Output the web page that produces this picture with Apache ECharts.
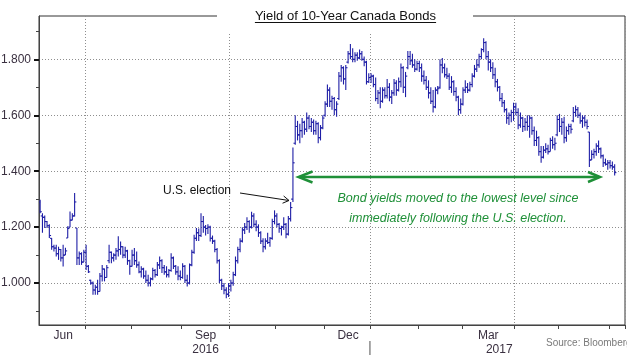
<!DOCTYPE html>
<html><head><meta charset="utf-8">
<script src="https://cdn.jsdelivr.net/npm/echarts@6/dist/echarts.min.js"></script>
<style>html,body{margin:0;padding:0;background:#fff}#c{width:627px;height:359px}</style>
</head><body><div id="c"></div>
<script>
// ---- data ----
const months = ['Jun 2016','Jul 2016','Aug 2016','Sep 2016','Oct 2016','Nov 2016','Dec 2016','Jan 2017','Feb 2017','Mar 2017','Apr 2017','May 2017','Jun 2017'];
const tradingDays = [20,20,22,21,20,21,20,21,19,23,19,22,7];
const labelMonths = ['Jun 2016','Sep 2016','Dec 2016','Mar 2017'];
const labelTexts = ['Jun','Sep','Dec','Mar'];
const yearTexts = ['','2016','','2017'];
const gridMonths = ['Jul 2016','Oct 2016','Jan 2017','Apr 2017'];
const yTickValues = [1.0,1.2,1.4,1.6,1.8];
const yMinorTicks = [0.9,1.1,1.3,1.5,1.7,1.9];

const open = [
1.290,1.240,1.235,1.220,1.205,1.160,1.130,1.125,1.105,1.120,1.090,1.100,1.161,1.200,1.225,1.240,1.197,1.090,1.105,1.075,
1.110,1.060,1.010,1.000,0.975,0.985,0.970,1.025,1.050,1.020,1.080,1.110,1.090,1.100,1.115,1.120,1.130,1.100,1.115,1.080,
1.060,1.100,1.080,1.065,1.040,1.050,1.025,1.010,1.000,1.015,1.045,1.030,1.065,1.080,1.055,1.040,1.030,1.045,1.090,1.060,1.040,1.025,
1.020,1.060,1.010,1.000,1.065,1.110,1.160,1.180,1.170,1.220,1.200,1.195,1.200,1.160,1.150,1.120,1.080,1.010,0.990,0.975,0.960,
0.990,1.000,1.030,1.080,1.120,1.150,1.190,1.200,1.220,1.200,1.240,1.210,1.200,1.180,1.150,1.130,1.150,1.145,1.160,1.220,
1.240,1.210,1.195,1.200,1.210,1.175,1.230,1.300,1.500,1.560,1.530,1.545,1.575,1.550,1.590,1.560,1.575,1.545,1.570,1.520,1.555,
1.600,1.640,1.690,1.650,1.660,1.620,1.660,1.740,1.770,1.730,1.790,1.820,1.810,1.800,1.815,1.805,1.820,1.800,1.790,1.720,
1.735,1.740,1.710,1.660,1.680,1.650,1.690,1.670,1.700,1.665,1.680,1.715,1.690,1.720,1.770,1.700,1.770,1.810,1.795,1.780,1.765,
1.785,1.770,1.740,1.725,1.700,1.680,1.650,1.630,1.690,1.700,1.780,1.770,1.745,1.740,1.700,1.720,1.685,1.665,1.620,
1.640,1.690,1.700,1.690,1.710,1.740,1.765,1.780,1.810,1.835,1.860,1.810,1.790,1.770,1.745,1.720,1.700,1.660,1.645,1.620,1.590,1.600,1.610,
1.630,1.610,1.565,1.590,1.560,1.575,1.560,1.590,1.545,1.510,1.520,1.470,1.450,1.475,1.480,1.470,1.510,1.495,1.530,
1.585,1.560,1.575,1.520,1.545,1.560,1.580,1.610,1.620,1.600,1.580,1.590,1.575,1.540,1.440,1.460,1.470,1.490,1.480,1.455,1.430,1.425,
1.430,1.420,1.415];
const high = [
1.298,1.250,1.242,1.222,1.210,1.161,1.137,1.137,1.130,1.122,1.137,1.126,1.203,1.256,1.250,1.322,1.197,1.113,1.110,1.119,
1.137,1.065,1.012,1.006,0.994,1.012,1.036,1.065,1.052,1.065,1.137,1.113,1.107,1.125,1.167,1.149,1.132,1.130,1.119,1.083,
1.119,1.125,1.113,1.077,1.060,1.055,1.045,1.030,1.020,1.055,1.050,1.075,1.095,1.085,1.065,1.060,1.050,1.107,1.095,1.065,1.060,1.045,
1.071,1.065,1.030,1.070,1.119,1.173,1.197,1.195,1.250,1.240,1.208,1.210,1.205,1.170,1.155,1.125,1.085,1.015,1.000,0.985,1.000,
1.012,1.040,1.095,1.130,1.160,1.200,1.215,1.235,1.225,1.255,1.250,1.225,1.210,1.185,1.160,1.160,1.180,1.165,1.230,1.260,
1.250,1.215,1.205,1.235,1.215,1.240,1.290,1.485,1.600,1.580,1.570,1.590,1.580,1.610,1.600,1.590,1.585,1.580,1.575,1.565,1.600,
1.650,1.710,1.700,1.670,1.665,1.650,1.755,1.780,1.775,1.780,1.830,1.855,1.840,1.825,1.825,1.835,1.830,1.810,1.795,1.750,
1.750,1.745,1.735,1.690,1.700,1.700,1.700,1.730,1.715,1.690,1.730,1.725,1.735,1.785,1.775,1.755,1.830,1.830,1.820,1.800,1.795,
1.795,1.785,1.760,1.740,1.725,1.700,1.690,1.700,1.705,1.800,1.805,1.785,1.770,1.750,1.740,1.725,1.700,1.670,1.660,
1.700,1.725,1.715,1.720,1.750,1.780,1.800,1.820,1.840,1.875,1.865,1.830,1.800,1.790,1.770,1.730,1.705,1.680,1.655,1.625,1.610,1.620,1.645,
1.645,1.625,1.610,1.595,1.590,1.600,1.600,1.595,1.560,1.545,1.525,1.490,1.490,1.500,1.495,1.520,1.525,1.520,1.600,
1.605,1.590,1.595,1.560,1.570,1.570,1.630,1.635,1.630,1.610,1.600,1.600,1.585,1.540,1.475,1.480,1.500,1.510,1.485,1.460,1.445,1.440,
1.440,1.435,1.425];
const low = [
1.250,1.180,1.197,1.197,1.161,1.119,1.113,1.095,1.083,1.077,1.059,1.100,1.161,1.200,1.225,1.238,1.065,1.065,1.065,1.075,
1.047,1.036,0.994,0.958,0.958,0.958,0.970,1.006,1.006,1.020,1.071,1.071,1.077,1.083,1.095,1.101,1.089,1.090,1.065,1.030,
1.059,1.065,1.055,1.035,1.020,1.015,1.000,0.988,0.988,1.010,1.020,1.025,1.050,1.036,1.030,1.020,1.020,1.040,1.050,1.030,1.010,1.010,
1.015,1.000,0.988,0.995,1.060,1.105,1.150,1.150,1.165,1.180,1.170,1.175,1.149,1.140,1.110,1.070,1.000,0.975,0.960,0.946,0.950,
0.970,0.990,1.025,1.070,1.110,1.145,1.175,1.190,1.180,1.195,1.200,1.185,1.165,1.140,1.110,1.120,1.140,1.130,1.155,1.210,
1.200,1.180,1.170,1.190,1.160,1.170,1.220,1.290,1.495,1.510,1.500,1.520,1.530,1.540,1.550,1.540,1.530,1.530,1.500,1.510,1.550,
1.595,1.630,1.630,1.620,1.600,1.595,1.655,1.720,1.710,1.690,1.785,1.800,1.790,1.790,1.795,1.800,1.795,1.775,1.710,1.715,
1.715,1.700,1.650,1.640,1.625,1.645,1.660,1.660,1.650,1.640,1.670,1.670,1.685,1.700,1.680,1.665,1.765,1.780,1.770,1.755,1.760,
1.755,1.720,1.710,1.690,1.660,1.640,1.610,1.625,1.675,1.695,1.750,1.735,1.730,1.690,1.680,1.670,1.650,1.600,1.605,
1.635,1.680,1.680,1.685,1.700,1.735,1.755,1.770,1.800,1.825,1.800,1.760,1.755,1.730,1.700,1.685,1.650,1.630,1.610,1.570,1.565,1.575,1.580,
1.600,1.550,1.555,1.540,1.545,1.545,1.520,1.530,1.490,1.490,1.455,1.430,1.445,1.465,1.460,1.470,1.480,1.475,1.525,
1.540,1.530,1.500,1.505,1.530,1.535,1.575,1.595,1.590,1.570,1.555,1.560,1.550,1.415,1.440,1.445,1.455,1.465,1.445,1.415,1.420,1.405,
1.410,1.405,1.385];
const close = [
1.255,1.235,1.220,1.205,1.170,1.130,1.125,1.105,1.120,1.090,1.100,1.115,1.195,1.225,1.240,1.290,1.090,1.105,1.075,1.110,
1.060,1.040,1.000,0.975,0.985,0.970,1.025,1.050,1.020,1.055,1.110,1.090,1.100,1.115,1.120,1.130,1.100,1.115,1.080,1.060,
1.100,1.080,1.065,1.040,1.050,1.025,1.010,1.000,1.015,1.045,1.030,1.065,1.080,1.055,1.040,1.030,1.045,1.090,1.060,1.040,1.025,1.020,
1.060,1.010,1.000,1.065,1.110,1.160,1.180,1.170,1.220,1.200,1.195,1.200,1.160,1.150,1.120,1.080,1.010,0.990,0.975,0.960,0.990,
1.000,1.030,1.080,1.120,1.150,1.190,1.200,1.220,1.200,1.240,1.210,1.200,1.180,1.150,1.130,1.150,1.145,1.160,1.220,1.240,
1.210,1.195,1.200,1.210,1.175,1.230,1.270,1.430,1.560,1.530,1.545,1.575,1.550,1.590,1.560,1.575,1.545,1.570,1.520,1.555,1.590,
1.640,1.690,1.650,1.660,1.620,1.640,1.740,1.770,1.730,1.770,1.820,1.810,1.800,1.815,1.805,1.820,1.800,1.790,1.720,1.735,
1.740,1.710,1.660,1.680,1.650,1.690,1.670,1.700,1.665,1.680,1.715,1.690,1.720,1.770,1.700,1.740,1.810,1.795,1.780,1.765,1.785,
1.770,1.740,1.725,1.700,1.680,1.650,1.630,1.690,1.695,1.780,1.770,1.745,1.740,1.700,1.720,1.685,1.665,1.620,1.640,
1.690,1.700,1.690,1.710,1.740,1.765,1.780,1.810,1.835,1.860,1.810,1.790,1.770,1.745,1.720,1.700,1.660,1.645,1.620,1.590,1.600,1.610,1.630,
1.610,1.565,1.590,1.560,1.575,1.560,1.590,1.545,1.510,1.520,1.470,1.450,1.475,1.480,1.470,1.510,1.495,1.500,1.585,
1.560,1.575,1.520,1.545,1.560,1.550,1.610,1.620,1.600,1.580,1.590,1.575,1.560,1.440,1.460,1.470,1.490,1.480,1.455,1.430,1.425,1.430,
1.420,1.415,1.395];

// ---- build categories ----
const categories = [];
const monthStart = {};
months.forEach((m, k) => {
  monthStart[m] = categories.length;
  for (let d = 1; d <= tradingDays[k]; d++) categories.push(m + ' #' + d);
});
const tickIdx = new Set(months.slice(1).map(m => monthStart[m]));
const gridIdx = new Set(gridMonths.map(m => monthStart[m]));
const labelMap = {};
labelMonths.forEach((m, k) => {
  const idx = monthStart[m] + Math.floor(tradingDays[months.indexOf(m)] / 2);
  const yStyle = k === 3 ? 'y2' : 'y';
  labelMap[idx] = '{m|' + labelTexts[k] + '}' + (yearTexts[k] ? '\n{' + yStyle + '|' + yearTexts[k] + '}' : '');
});
const data = open.map((o, i) => [i, o, high[i], low[i], close[i]]);

const BAR = '#1e1ea6';
function renderItem(params, api) {
  const i = api.value(0);
  const o = api.coord([i, api.value(1)]);
  const h = api.coord([i, api.value(2)]);
  const l = api.coord([i, api.value(3)]);
  const c = api.coord([i, api.value(4)]);
  const w = api.size([1, 0])[0] * 0.75;
  const st = { stroke: BAR, lineWidth: 1.1 };
  return { type: 'group', children: [
    { type: 'line', shape: { x1: h[0], y1: h[1], x2: l[0], y2: l[1] }, style: st },
    { type: 'line', shape: { x1: o[0] - w, y1: o[1], x2: o[0], y2: o[1] }, style: st },
    { type: 'line', shape: { x1: c[0], y1: c[1], x2: c[0] + w, y2: c[1] }, style: st }
  ]};
}

const FONT = 'Liberation Sans';
const dotted = { color: '#8e8e8e', width: 1, type: [1, 2] };
const lbl = { fontSize: 12, fontFamily: FONT, color: '#3a3040', lineHeight: 14 };
const chart = echarts.init(document.getElementById('c'), null, { renderer: 'canvas' });
chart.setOption({
  animation: false,
  backgroundColor: '#ffffff',
  grid: { left: 39, right: 2, top: 16, bottom: 34, show: true, borderColor: '#333', borderWidth: 1,
          backgroundColor: 'transparent', containLabel: false, outerBoundsMode: 'none' },
  xAxis: {
    type: 'category', data: categories, boundaryGap: true,
    axisLine: { show: true, lineStyle: { color: '#444', width: 1 } },
    axisTick: { show: true, interval: (i) => tickIdx.has(i), length: 4, lineStyle: { color: '#444' } },
    axisLabel: {
      interval: (i) => labelMap[i] !== undefined,
      formatter: (v, i) => labelMap[i] || '',
      margin: 4, hideOverlap: false,
      rich: {
        m: lbl,
        y: Object.assign({}, lbl),
        y2: Object.assign({}, lbl, { padding: [0, 0, 0, 22] })
      }
    },
    splitLine: { show: true, interval: (i) => gridIdx.has(i), lineStyle: dotted }
  },
  yAxis: [{
    type: 'value', min: 0.85, max: 1.955, position: 'left',
    axisLine: { show: true, lineStyle: { color: '#444', width: 1 } },
    axisTick: { show: true, customValues: yTickValues, length: 5, lineStyle: { color: '#111', width: 2 } },
    axisLabel: { customValues: yTickValues, formatter: (v) => v.toFixed(3), color: '#3a3040',
                 fontSize: 12, fontFamily: FONT, margin: 8 },
    splitLine: { show: true, lineStyle: dotted }
  }, {
    type: 'value', min: 0.85, max: 1.955, position: 'left',
    axisLine: { show: false },
    axisTick: { show: true, customValues: yMinorTicks, length: 3, lineStyle: { color: '#444' } },
    axisLabel: { show: false },
    splitLine: { show: false }
  }],
  series: [{ type: 'custom', renderItem, data, encode: { x: 0, y: [1, 2, 3, 4] }, clip: true, z: 3 }]
});

// ---- annotations ----
const ctx = document.createElement('canvas').getContext('2d');
ctx.font = '13px "' + FONT + '"';
const titleText = 'Yield of 10-Year Canada Bonds';
const tw = ctx.measureText(titleText).width;
const tcx = 345.5;
const sepX = chart.convertToPixel({ xAxisIndex: 0 }, monthStart['Jan 2017']) - chart.getModel().getComponent('xAxis', 0).axis.getBandWidth() / 2;

function arrowHead(tip, from, len, ang) {
  const dx = from[0] - tip[0], dy = from[1] - tip[1];
  const d = Math.hypot(dx, dy), ux = dx / d, uy = dy / d;
  const r = (a) => [tip[0] + len * (ux * Math.cos(a) - uy * Math.sin(a)), tip[1] + len * (ux * Math.sin(a) + uy * Math.cos(a))];
  return [r(ang), tip, r(-ang)];
}
const elStart = [240, 193], elTip = [289, 200.5];
const gL = [298.5, 177], gR = [600, 177];
const green = '#1f9038';

chart.setOption({
  graphic: [
    { type: 'rect', z: 20, shape: { x: 217, y: 13, width: 256, height: 20 }, style: { fill: '#fff' } },
    { type: 'text', z: 21, x: tcx, y: 16, style: { text: titleText, font: '13px "' + FONT + '"', fill: '#111', align: 'center', verticalAlign: 'middle' } },
    { type: 'line', z: 21, shape: { x1: tcx - tw / 2, y1: 22.5, x2: tcx + tw / 2, y2: 22.5 }, style: { stroke: '#111', lineWidth: 1 } },
    { type: 'text', z: 21, x: 231, y: 191, style: { text: 'U.S. election', font: '12px "' + FONT + '"', fill: '#111', align: 'right', verticalAlign: 'middle' } },
    { type: 'line', z: 21, shape: { x1: elStart[0], y1: elStart[1], x2: elTip[0], y2: elTip[1] }, style: { stroke: '#111', lineWidth: 1 } },
    { type: 'polyline', z: 21, shape: { points: arrowHead(elTip, elStart, 7, 0.55) }, style: { stroke: '#111', lineWidth: 1, fill: null } },
    { type: 'line', z: 21, shape: { x1: gL[0] + 1, y1: gL[1], x2: gR[0] - 1, y2: gR[1] }, style: { stroke: green, lineWidth: 2.5 } },
    { type: 'polyline', z: 21, shape: { points: [[gL[0] + 14, gL[1] - 5.5], gL, [gL[0] + 14, gL[1] + 5.5]] }, style: { stroke: green, lineWidth: 2.5, fill: null, lineJoin: 'miter' } },
    { type: 'polyline', z: 21, shape: { points: [[gR[0] - 12, gR[1] - 5], gR, [gR[0] - 12, gR[1] + 5]] }, style: { stroke: green, lineWidth: 2.5, fill: null, lineJoin: 'miter' } },
    { type: 'text', z: 21, x: 458, y: 199, style: { text: 'Bond yields moved to the lowest level since', font: 'italic 12.5px "' + FONT + '"', fill: green, align: 'center', verticalAlign: 'middle' } },
    { type: 'text', z: 21, x: 458, y: 219, style: { text: 'immediately following the U.S. election.', font: 'italic 12.5px "' + FONT + '"', fill: green, align: 'center', verticalAlign: 'middle' } },
    { type: 'text', z: 21, x: 546, y: 343, style: { text: 'Source: Bloomberg', font: '10px "' + FONT + '"', fill: '#7a7a7a', align: 'left', verticalAlign: 'middle' } },
    { type: 'line', z: 21, shape: { x1: sepX, y1: 341, x2: sepX, y2: 355 }, style: { stroke: '#8a8a8a', lineWidth: 1.5 } }
  ]
});
</script>
</body></html>
